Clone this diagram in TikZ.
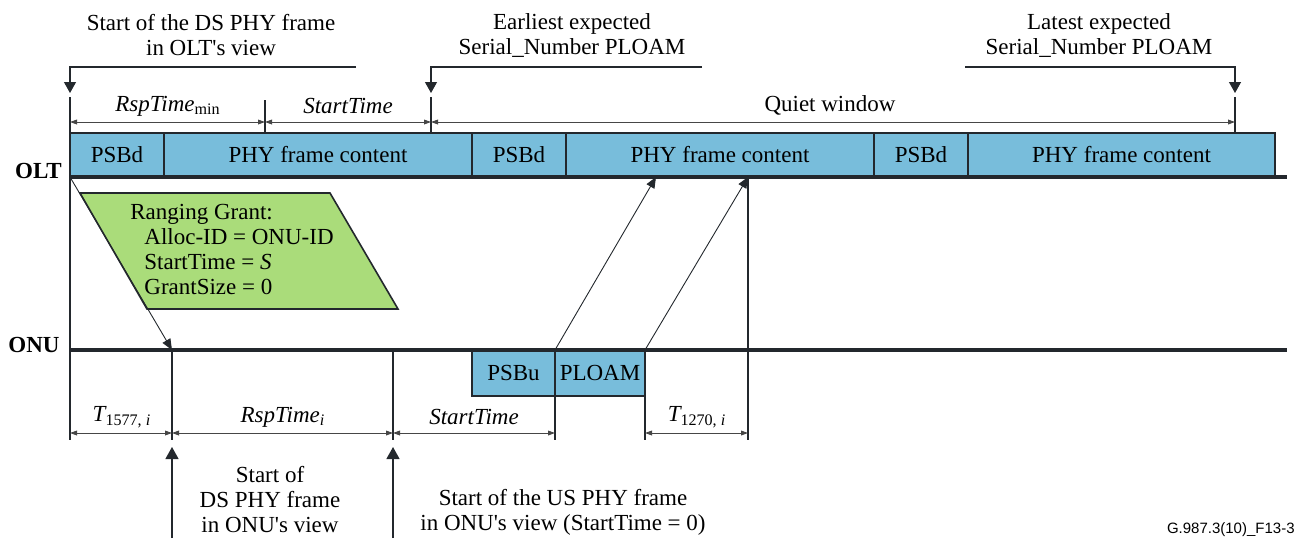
\documentclass[tikz,border=0pt]{standalone}
\usepackage{fontspec}
\setmainfont{Liberation Serif}
\newfontfamily\tagfont{Liberation Sans}
\usepackage{tikz}
\usetikzlibrary{arrows.meta,positioning}
\definecolor{psblue}{RGB}{120,189,219}
\definecolor{grantgreen}{RGB}{170,220,122}
\definecolor{edge}{RGB}{35,40,45}
\definecolor{dimgray}{RGB}{70,70,70}
\newcommand{\figfont}{\fontsize{11.5}{12.5}\selectfont}
\tikzset{
  framebox/.style={draw=edge, fill=psblue, line width=0.8pt, inner sep=0pt, outer sep=0pt,
    minimum height=22pt, font=\figfont},
  timeline/.style={draw=edge, line width=2pt},
  marker/.style={draw=edge, line width=0.7pt},
  dimline/.style={{Triangle[length=3.5pt,width=2.4pt]}-{Triangle[length=3.5pt,width=2.4pt]},
    draw=dimgray, line width=0.45pt},
  pointer/.style={-{Triangle[length=5.5pt,width=6pt]}, draw=edge, line width=0.6pt},
  uppointer/.style={-{Triangle[length=6pt,width=6.5pt]}, draw=edge, line width=0.6pt},
  signal/.style={-{Triangle[length=5.5pt,width=4.5pt]}, draw=edge, line width=0.45pt},
  caption/.style={align=center, font=\figfont, inner sep=0pt},
  dimlabel/.style={font=\figfont\itshape, inner sep=0pt},
  sidelabel/.style={font=\figfont\bfseries, anchor=east, inner sep=0pt}
}
\begin{document}
\begin{tikzpicture}[x=0.5pt, y=-0.5pt]
\useasboundingbox (0,0) rectangle (1295,538);

% time marks
\coordinate (ta) at (70,0);
\coordinate (tb) at (265,0);
\coordinate (tc) at (431,0);
\coordinate (td) at (1235,0);
\coordinate (te) at (172,0);
\coordinate (tf) at (393,0);
\coordinate (tg) at (555,0);
\coordinate (th) at (645,0);
\coordinate (ti) at (656,0);
\coordinate (tj) at (748,0);
% levels
\coordinate (hBrk) at (0,67);
\coordinate (hTip) at (0,93);
\coordinate (hTop) at (0,97);
\coordinate (hTick) at (0,100);
\coordinate (hDimT) at (0,122);
\coordinate (hFrm) at (0,133);
\coordinate (hOlt) at (0,177);
\coordinate (hOnu) at (0,350);
\coordinate (hBurst) at (0,396);
\coordinate (hDimB) at (0,433);
\coordinate (hEnd) at (0,440);
\coordinate (hUp) at (0,447);
\coordinate (hBot) at (0,538);

% downstream frames at the OLT
\node[framebox, minimum width=47pt, anchor=north west] (psbd1) at (ta |- hFrm) {PSBd};
\node[framebox, minimum width=154pt, right=0pt of psbd1] (phy1) {PHY frame content};
\node[framebox, minimum width=47pt, right=0pt of phy1] (psbd2) {PSBd};
\node[framebox, minimum width=154pt, right=0pt of psbd2] (phy2) {PHY frame content};
\node[framebox, minimum width=47pt, right=0pt of phy2] (psbd3) {PSBd};
\node[framebox, minimum width=153.5pt, right=0pt of psbd3] (phy3) {PHY frame content};

% upstream burst at the ONU
\node[framebox, minimum width=41.5pt, minimum height=23pt, anchor=north west] (psbu) at (472,350) {PSBu};
\node[framebox, minimum width=45pt, minimum height=23pt, right=0pt of psbu] (ploam) {PLOAM};

% timelines
\node[sidelabel] (olt) at (62,171) {OLT};
\node[sidelabel] (onu) at (60,345) {ONU};
\coordinate (oltR) at (1287,177);
\coordinate (onuR) at (1287,350);
\draw[timeline] (ta |- hOlt) -- (oltR);
\draw[timeline] (ta |- hOnu) -- (onuR);

% vertical marks
\draw[marker] (ta |- hTop) -- (ta |- hEnd);
\draw[marker] (tb |- hTick) -- (tb |- hFrm);
\draw[marker] (tc |- hTop) -- (tc |- hFrm);
\draw[marker] (td |- hTop) -- (td |- hFrm);
\draw[marker] (te |- hOnu) -- (te |- hEnd);
\draw[marker] (tf |- hOnu) -- (tf |- hEnd);
\draw[marker] (tg |- hBurst) -- (tg |- hEnd);
\draw[marker] (th |- hBurst) -- (th |- hEnd);
\draw[marker] (tj |- hOlt) -- (tj |- hEnd);

% top captions and pointers
\node[caption] (capds) at (211,35) {Start of the DS PHY frame\\in OLT\textquotesingle s view};
\node[caption] (capearly) at (572,35) {Earliest expected\\Serial\_Number PLOAM};
\node[caption] (caplate) at (1099,35) {Latest expected\\Serial\_Number PLOAM};
\coordinate (brkds) at (356,67);
\coordinate (brkearly) at (702,67);
\coordinate (brklate) at (965,67);
\draw[pointer] (brkds) -- (ta |- hBrk) -- (ta |- hTip);
\draw[pointer] (brkearly) -- (tc |- hBrk) -- (tc |- hTip);
\draw[pointer] (brklate) -- (td |- hBrk) -- (td |- hTip);

% OLT side intervals
\draw[dimline] (ta |- hDimT) -- (tb |- hDimT);
\draw[dimline] (tb |- hDimT) -- (tc |- hDimT);
\draw[dimline] (tc |- hDimT) -- (td |- hDimT);
\node[dimlabel] (rspmin) at (168,106) {RspTime\textsubscript{\upshape min}};
\node[dimlabel] (stolt) at (348,106) {StartTime};
\node[caption] (quiet) at (830,105) {Quiet window};

% ranging grant
\filldraw[fill=grantgreen, draw=edge, line width=0.8pt] (80,193) -- (330,193) -- (398,309) -- (147,309) -- cycle;
\node[font=\figfont, align=left, inner sep=0pt, anchor=north west] (grant) at (130,204)
  {Ranging Grant:\\\hspace*{7pt}Alloc-ID = ONU-ID\\\hspace*{7pt}StartTime = \textit{S}\\\hspace*{7pt}GrantSize = 0};

% signals
\draw[signal] (ta |- hOlt) -- (te |- hOnu);
\draw[signal] (tg |- hOnu) -- (ti |- hOlt);
\draw[signal] (th |- hOnu) -- (tj |- hOlt);

% ONU side intervals
\draw[dimline] (ta |- hDimB) -- (te |- hDimB);
\draw[dimline] (te |- hDimB) -- (tf |- hDimB);
\draw[dimline] (tf |- hDimB) -- (tg |- hDimB);
\draw[dimline] (th |- hDimB) -- (tj |- hDimB);
\node[dimlabel] (tds) at (122,417) {T\textsubscript{\upshape 1577,~\itshape i}};
\node[dimlabel] (rspi) at (283,417) {RspTime\textsubscript{i}};
\node[dimlabel] (stonu) at (474,417) {StartTime};
\node[dimlabel] (tus) at (697,417) {T\textsubscript{\upshape 1270,~\itshape i}};

% bottom captions
\draw[uppointer] (te |- hBot) -- (te |- hUp);
\draw[uppointer] (tf |- hBot) -- (tf |- hUp);
\node[caption] (capdsonu) at (270,499) {Start of\\DS PHY frame\\in ONU\textquotesingle s view};
\node[caption] (capusonu) at (563,512) {Start of the US PHY frame\\in ONU\textquotesingle s view (StartTime = 0)};

\node[font=\tagfont\fontsize{7.5}{8}\selectfont, anchor=east, inner sep=0pt] (tag) at (1295,530) {G.987.3(10)\_F13-3};
\end{tikzpicture}
\end{document}
